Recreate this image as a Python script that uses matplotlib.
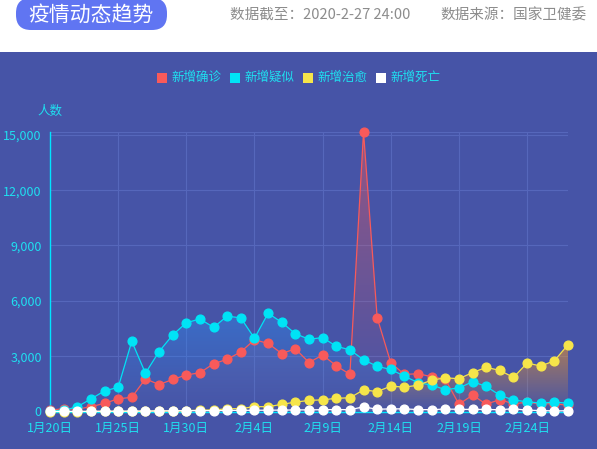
import numpy as np
import pandas as pd
import matplotlib
matplotlib.use("Agg")
import matplotlib.pyplot as plt
from matplotlib.patches import Rectangle, FancyBboxPatch
from matplotlib.transforms import IdentityTransform
from matplotlib.ticker import FuncFormatter

plt.rcParams['font.family'] = ['Noto Sans CJK SC', 'DejaVu Sans']

# 数据 (1月20日 - 2月27日)
dates = pd.date_range('2020-01-20', '2020-02-27')
confirmed = [77, 149, 131, 259, 444, 688, 769, 1771, 1459, 1737, 1982, 2102,
             2590, 2829, 3235, 3887, 3694, 3143, 3399, 2656, 3062, 2478, 2015,
             15152, 5090, 2641, 2009, 2048, 1886, 1749, 394, 889, 397, 648,
             409, 508, 406, 433, 327]
suspected = [27, 60, 257, 680, 1118, 1309, 3806, 2077, 3248, 4148, 4812, 5019,
             4562, 5173, 5072, 3971, 5328, 4833, 4214, 3916, 4008, 3536, 3342,
             2807, 2450, 2277, 1918, 1563, 1432, 1185, 1277, 1614, 1361, 882,
             620, 530, 452, 508, 452]
cured = [0, 0, 0, 6, 3, 11, 2, 9, 43, 21, 47, 72,
         85, 147, 157, 262, 261, 387, 510, 600, 632, 716, 744, 1171, 1081,
         1373, 1323, 1425, 1701, 1824, 1779, 2109, 2393, 2230, 1846, 2628,
         2466, 2750, 3622]
deaths = [3, 3, 8, 8, 16, 15, 24, 26, 26, 38, 43, 46,
          45, 57, 64, 65, 73, 73, 86, 89, 97, 108, 97, 254, 121, 143, 142,
          105, 98, 136, 114, 118, 109, 97, 150, 71, 52, 29, 44]
series_names = ['新增确诊', '新增疑似', '新增治愈', '新增死亡']
line_colors = ['#f85a5a', '#00e3f6', '#f6e54a', '#ffffff']
fill_colors = [(0.96, 0.35, 0.35), (0.18, 0.55, 0.94), (0.94, 0.59, 0.16), (1, 1, 1)]
fill_alpha = [0.45, 0.45, 0.58, 0.3]
yticks = [0, 3000, 6000, 9000, 12000, 15000]

W, H = 597, 449
BG = '#4654a7'
CYAN = '#1fdff0'

fig = plt.figure(figsize=(W / 100, H / 100), dpi=100)
fig.patch.set_facecolor('white')
fig.add_artist(Rectangle((0, 0), 1, 1 - 52 / H, transform=fig.transFigure,
                         facecolor=BG, edgecolor='none', zorder=0))

# 标题胶囊
pill = FancyBboxPatch((16, H - 30), 151, 32,
                      boxstyle="round,pad=0,rounding_size=15",
                      transform=IdentityTransform(), facecolor='#6075f2',
                      edgecolor='none', zorder=1)
fig.add_artist(pill)
fig.text(91 / W, 1 - 15 / H, '疫情动态趋势', color='white', fontsize=15,
         ha='center', va='center')
fig.text(230 / W, 1 - 15 / H, '数据截至：2020-2-27 24:00', color='#8c8c8c',
         fontsize=10.5, ha='left', va='center')
fig.text(440 / W, 1 - 15 / H, '数据来源：国家卫健委', color='#8c8c8c',
         fontsize=10.5, ha='left', va='center')

# 图例
for i, (name, c) in enumerate(zip(series_names, line_colors)):
    x0 = 157 + i * 73
    fig.add_artist(Rectangle((x0 / W, 1 - 82.5 / H), 10 / W, 10 / H,
                             transform=fig.transFigure, facecolor=c,
                             edgecolor='none'))
    fig.text((x0 + 14) / W, 1 - 77.5 / H, name, color=CYAN, fontsize=9,
             ha='left', va='center')

fig.text(50 / W, 1 - 111 / H, '人数', color=CYAN, fontsize=9,
         ha='center', va='center')

ax = fig.add_axes([50 / W, 1 - 411.5 / H, 518 / W, 279.5 / H])
ax.set_facecolor('none')
x = np.arange(len(dates))
ymax = max(confirmed)


def gradient_fill(vals, rgb, a_top, z):
    poly = ax.fill_between(x, 0, vals, facecolor='none', edgecolor='none')
    grad = np.zeros((200, 1, 4))
    grad[..., :3] = rgb
    grad[:, 0, 3] = np.linspace(0, a_top, 200)
    im = ax.imshow(grad, extent=[x[0], x[-1], 0, max(vals)], origin='lower',
                   aspect='auto', zorder=z, interpolation='bilinear')
    im.set_clip_path(poly.get_paths()[0], transform=ax.transData)


all_series = [confirmed, suspected, cured, deaths]
for i, vals in enumerate(all_series):
    gradient_fill(vals, fill_colors[i], fill_alpha[i], 1 + i * 0.1)
for i, vals in enumerate(all_series):
    ax.plot(x, vals, color=line_colors[i], lw=0.9, marker='o', ms=6.3,
            mec=line_colors[i], mfc=line_colors[i], zorder=3 + i, clip_on=False)

ax.set_xlim(0, len(dates) - 1)
ax.set_ylim(0, ymax)

grid_c = '#5667bb'
for yv in yticks[1:] + [ymax]:
    ax.axhline(yv, color=grid_c, lw=0.8, zorder=0.5)
for xv in x[5::5]:
    ax.axvline(xv, color=grid_c, lw=0.8, zorder=0.5)

ax.set_yticks(yticks)
ax.yaxis.set_major_formatter(FuncFormatter(lambda v, p: f'{int(v):,}'))
ax.set_xticks(x[::5])
ax.set_xticklabels([f'{d.month}月{d.day}日' for d in dates[::5]])
ax.tick_params(axis='both', length=0, colors=CYAN, labelsize=9)
ax.tick_params(axis='y', pad=6)
ax.tick_params(axis='x', pad=7.5)
for s in ['top', 'right']:
    ax.spines[s].set_visible(False)
for s in ['left', 'bottom']:
    ax.spines[s].set_color('#00e5ff')
    ax.spines[s].set_linewidth(1)
    ax.spines[s].set_zorder(2.5)

fig.savefig('out.png', dpi=100, facecolor=fig.get_facecolor())
